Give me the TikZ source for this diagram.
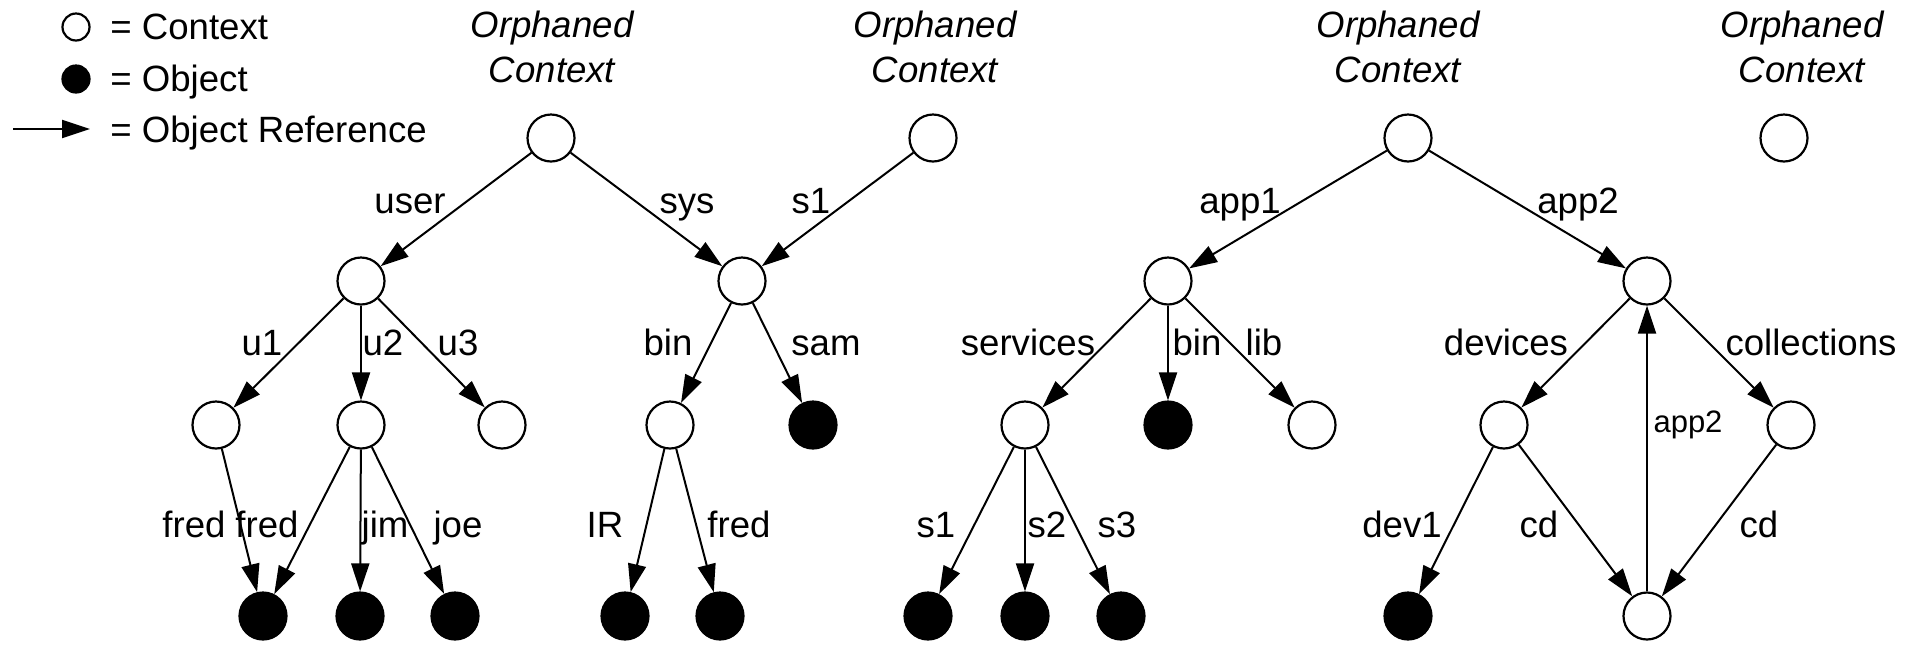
\documentclass[tikz,border=0pt]{standalone}
\usepackage{fontspec}
\setmainfont{Liberation Sans}
\usetikzlibrary{arrows.meta}
\begin{document}
\begin{tikzpicture}[x=0.5pt,y=-0.5pt,
  ctx/.style={circle,draw,line width=1.1pt,minimum size=23.5pt,inner sep=0pt},
  obj/.style={circle,draw,fill=black,line width=1.1pt,minimum size=23.5pt,inner sep=0pt},
  lctx/.style={circle,draw,line width=1.1pt,minimum size=13.5pt,inner sep=0pt},
  lobj/.style={circle,draw,fill=black,line width=1.1pt,minimum size=13.5pt,inner sep=0pt},
  lbl/.style={font=\fontsize{18.3}{22}\selectfont,inner sep=0pt,anchor=base},
  slbl/.style={font=\fontsize{15.5}{18}\selectfont,inner sep=0pt,anchor=base},
  orph/.style={font=\fontsize{18.3}{22}\selectfont\itshape,inner sep=0pt,anchor=base},
  leg/.style={font=\fontsize{18.3}{22}\selectfont,inner sep=0pt,anchor=base west},
  ref/.style={-{Triangle[length=14pt,width=9pt]},line width=1pt}]
\path[use as bounding box] (0,0) rectangle (1917,644);

% legend
\node[lctx] (lc) at (76,27) {};
\node[lobj] (lo) at (76,79) {};
\coordinate (la) at (13,129);
\coordinate (lb) at (90,129);
\draw[ref] (la) -- (lb);
\node[leg] (tc) at (110,39) {= Context};
\node[leg] (to) at (110,91) {= Object};
\node[leg] (tr) at (110,142) {= Object Reference};

% orphaned labels
\node[orph] (o1a) at (552,37) {Orphaned};
\node[orph] (o1b) at (552,82) {Context};
\node[orph] (o2a) at (935,37) {Orphaned};
\node[orph] (o2b) at (935,82) {Context};
\node[orph] (o3a) at (1398,37) {Orphaned};
\node[orph] (o3b) at (1398,82) {Context};
\node[orph] (o4a) at (1802,37) {Orphaned};
\node[orph] (o4b) at (1802,82) {Context};

% level 1
\node[ctx] (A) at (551,138) {};
\node[ctx] (B) at (933,138) {};
\node[ctx] (C) at (1408,138) {};
\node[ctx] (D) at (1784,138) {};
% level 2
\node[ctx] (U) at (361,281) {};
\node[ctx] (S) at (742,281) {};
\node[ctx] (A1) at (1168,281) {};
\node[ctx] (A2) at (1647,281) {};
% level 3
\node[ctx] (u1) at (216,425) {};
\node[ctx] (u2) at (361,425) {};
\node[ctx] (u3) at (502,425) {};
\node[ctx] (bS) at (670,425) {};
\node[obj] (sam) at (813,425) {};
\node[ctx] (svc) at (1025,425) {};
\node[obj] (binA) at (1168,425) {};
\node[ctx] (lib) at (1312,425) {};
\node[ctx] (dev) at (1504,425) {};
\node[ctx] (col) at (1791,425) {};
% level 4
\node[obj] (f1) at (263,616) {};
\node[obj] (jim) at (360,616) {};
\node[obj] (joe) at (455,616) {};
\node[obj] (ir) at (625,616) {};
\node[obj] (f2) at (720,616) {};
\node[obj] (s1) at (928,616) {};
\node[obj] (s2) at (1025,616) {};
\node[obj] (s3) at (1121,616) {};
\node[obj] (dv1) at (1408,616) {};
\node[ctx] (cd) at (1647,616) {};

% edges
\draw[ref] (A) -- (U);
\draw[ref] (A) -- (S);
\draw[ref] (B) -- (S);
\draw[ref] (U) -- (u1);
\draw[ref] (U) -- (u2);
\draw[ref] (U) -- (u3);
\draw[ref] (S) -- (bS);
\draw[ref] (S) -- (sam);
\draw[ref] (u1) -- (f1);
\draw[ref] (u2) -- (f1);
\draw[ref] (u2) -- (jim);
\draw[ref] (u2) -- (joe);
\draw[ref] (bS) -- (ir);
\draw[ref] (bS) -- (f2);
\draw[ref] (C) -- (A1);
\draw[ref] (C) -- (A2);
\draw[ref] (A1) -- (svc);
\draw[ref] (A1) -- (binA);
\draw[ref] (A1) -- (lib);
\draw[ref] (svc) -- (s1);
\draw[ref] (svc) -- (s2);
\draw[ref] (svc) -- (s3);
\draw[ref] (A2) -- (dev);
\draw[ref] (A2) -- (col);
\draw[ref] (dev) -- (dv1);
\draw[ref] (dev) -- (cd);
\draw[ref] (col) -- (cd);
\draw[ref] (cd) -- (A2);

% edge labels
\node[lbl] (l1) at (410,213) {user};
\node[lbl] (l2) at (687,213) {sys};
\node[lbl] (l3) at (811,213) {s1};
\node[lbl] (l4) at (1240,213) {app1};
\node[lbl] (l5) at (1578,213) {app2};

\node[lbl] (l6) at (262,355) {u1};
\node[lbl] (l7) at (383,355) {u2};
\node[lbl] (l8) at (458,355) {u3};
\node[lbl] (l9) at (668,355) {bin};
\node[lbl] (l10) at (826,355) {sam};
\node[lbl] (l11) at (1028,355) {services};
\node[lbl] (l12) at (1197,355) {bin};
\node[lbl] (l13) at (1264,355) {lib};
\node[lbl] (l14) at (1506,355) {devices};
\node[lbl] (l15) at (1811,355) {collections};
\node[slbl] (l16) at (1688,432) {app2};

\node[lbl] (l17) at (194,537) {fred};
\node[lbl] (l18) at (267,537) {fred};
\node[lbl] (l19) at (385,537) {jim};
\node[lbl] (l20) at (458,537) {joe};
\node[lbl] (l21) at (605,537) {IR};
\node[lbl] (l22) at (739,537) {fred};
\node[lbl] (l23) at (936,537) {s1};
\node[lbl] (l24) at (1047,537) {s2};
\node[lbl] (l25) at (1117,537) {s3};
\node[lbl] (l26) at (1402,537) {dev1};
\node[lbl] (l27) at (1539,537) {cd};
\node[lbl] (l28) at (1759,537) {cd};
\end{tikzpicture}
\end{document}
